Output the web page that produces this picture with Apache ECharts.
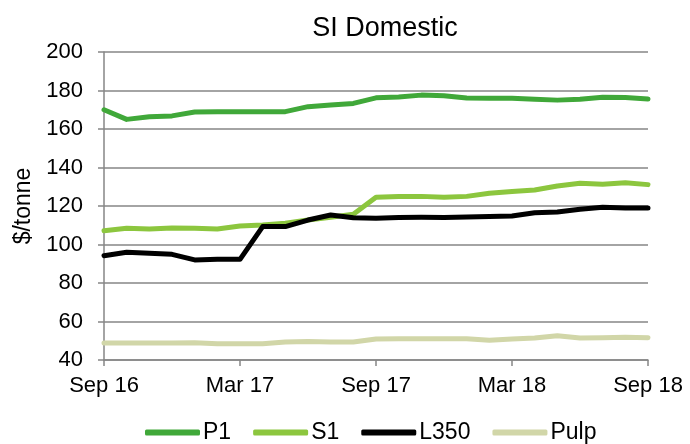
<!DOCTYPE html>
<html lang="en">
<head>
<meta charset="UTF-8">
<title>SI Domestic</title>
<script src="https://cdn.jsdelivr.net/npm/echarts@6/dist/echarts.min.js"></script>
</head>
<body style="margin:0;background:#fff;">
<div id="main" style="width:690px;height:444px;"></div>
<script type="text/javascript">
// months Sep 16 .. Sep 18
var months = ['Sep 16','Oct 16','Nov 16','Dec 16','Jan 17','Feb 17','Mar 17','Apr 17','May 17','Jun 17','Jul 17','Aug 17',
    'Sep 17','Oct 17','Nov 17','Dec 17','Jan 18','Feb 18','Mar 18','Apr 18','May 18','Jun 18','Jul 18','Aug 18','Sep 18'];

var p1 = [170, 165, 166.4, 166.8, 168.8, 169, 169, 169, 169, 171.6, 172.5, 173.3, 176.2, 176.6, 177.6, 177.3, 176.1, 176, 176, 175.5, 175, 175.5, 176.5, 176.4, 175.6];
var s1 = [107.2, 108.4, 108, 108.6, 108.4, 108, 109.6, 110.1, 111, 112.7, 114.1, 115.7, 124.5, 124.9, 125, 124.5, 125, 126.6, 127.5, 128.3, 130.4, 131.8, 131.3, 132.1, 131.1];
var l350 = [94.2, 96, 95.4, 94.9, 92, 92.3, 92.3, 109.3, 109.3, 112.7, 115.3, 113.9, 113.6, 114, 114.1, 114, 114.3, 114.6, 114.8, 116.5, 116.9, 118.3, 119.3, 119, 119];
var pulp = [48.8, 48.8, 48.8, 48.8, 48.9, 48.4, 48.4, 48.4, 49.3, 49.6, 49.3, 49.3, 50.9, 51, 51, 51, 51, 50.2, 50.9, 51.4, 52.6, 51.4, 51.6, 51.8, 51.6];

var myChart = echarts.init(document.getElementById('main'));
var font = 'Liberation Sans, Arial, sans-serif';

function mkLine(name, data, color) {
    return {
        name: name,
        type: 'line',
        data: data,
        symbol: 'none',
        lineStyle: {color: color, width: 5, cap: 'round', join: 'round'},
        itemStyle: {color: color}
    };
}

var option = {
    animation: false,
    title: {
        text: 'SI Domestic',
        left: 380,
        textAlign: 'center',
        top: 10,
        textStyle: {fontFamily: font, fontSize: 27, fontWeight: 'normal', color: '#000'}
    },
    grid: {left: 104, right: 42, top: 52, bottom: 84},
    legend: {
        top: 416,
        left: 140,
        itemWidth: 55,
        itemHeight: 6,
        itemGap: 22,
        icon: 'roundRect',
        textStyle: {fontFamily: font, fontSize: 23, color: '#000', padding: [0, 0, 0, -2]},
        data: ['P1', 'S1', 'L350', 'Pulp']
    },
    xAxis: {
        type: 'category',
        data: months,
        boundaryGap: false,
        axisLine: {lineStyle: {color: '#868686', width: 1.5}},
        axisTick: {interval: 5, length: 6, lineStyle: {color: '#868686', width: 1.5}},
        axisLabel: {interval: 5, fontFamily: font, fontSize: 22, color: '#000', margin: 15},
        splitLine: {show: false}
    },
    yAxis: {
        type: 'value',
        min: 40,
        max: 200,
        interval: 20,
        name: '$/tonne',
        nameLocation: 'middle',
        nameGap: 68,
        nameTextStyle: {fontFamily: font, fontSize: 23, color: '#000'},
        axisLine: {show: true, lineStyle: {color: '#868686', width: 1.5}},
        axisTick: {show: true, length: 6, lineStyle: {color: '#868686', width: 1.5}},
        axisLabel: {fontFamily: font, fontSize: 22, color: '#000', margin: 21},
        splitLine: {lineStyle: {color: '#868686', width: 1.5}}
    },
    series: [
        mkLine('P1', p1, '#40a839'),
        mkLine('S1', s1, '#8cc63e'),
        mkLine('L350', l350, '#000000'),
        mkLine('Pulp', pulp, '#d1d6a8')
    ]
};

myChart.setOption(option);
</script>
</body>
</html>
